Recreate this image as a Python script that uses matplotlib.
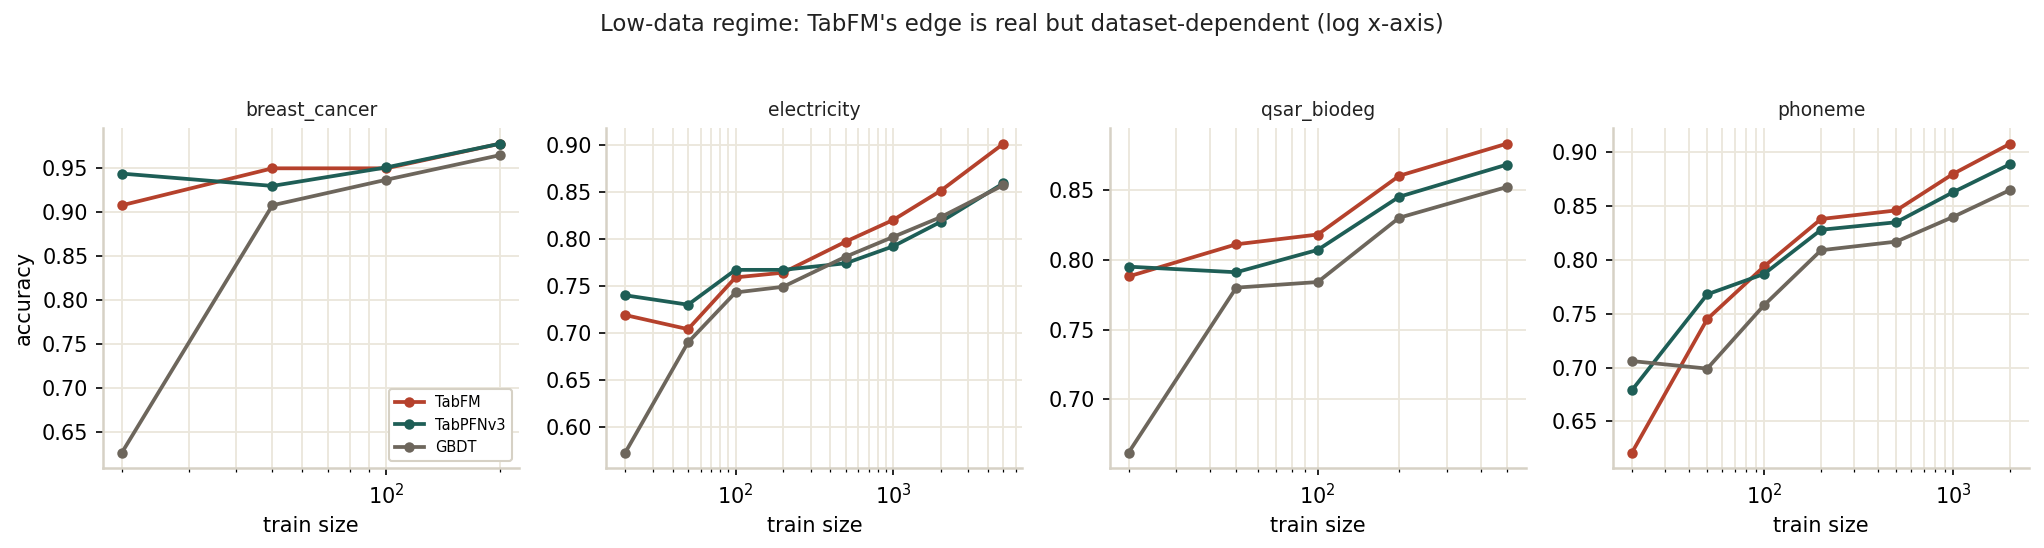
import numpy as np
import matplotlib
matplotlib.use("Agg")
import matplotlib.pyplot as plt

# data
datasets = ["breast_cancer", "electricity", "qsar_biodeg", "phoneme"]
models = ["TabFM", "TabPFNv3", "GBDT"]

sizes = {
    "breast_cancer": [20, 50, 100, 200],
    "electricity": [20, 50, 100, 200, 500, 1000, 2000, 5000],
    "qsar_biodeg": [20, 50, 100, 200, 500],
    "phoneme": [20, 50, 100, 200, 500, 1000, 2000],
}

tabfm = {
    "breast_cancer": [0.908, 0.950, 0.950, 0.978],
    "electricity": [0.719, 0.704, 0.759, 0.764, 0.797, 0.820, 0.851, 0.901],
    "qsar_biodeg": [0.788, 0.811, 0.818, 0.860, 0.883],
    "phoneme": [0.621, 0.745, 0.794, 0.838, 0.846, 0.880, 0.908],
}
tabpfn = {
    "breast_cancer": [0.944, 0.930, 0.951, 0.978],
    "electricity": [0.740, 0.730, 0.767, 0.767, 0.774, 0.792, 0.818, 0.859],
    "qsar_biodeg": [0.795, 0.791, 0.807, 0.845, 0.868],
    "phoneme": [0.679, 0.768, 0.787, 0.828, 0.835, 0.863, 0.889],
}
gbdt = {
    "breast_cancer": [0.627, 0.908, 0.937, 0.965],
    "electricity": [0.573, 0.690, 0.743, 0.749, 0.781, 0.802, 0.823, 0.857],
    "qsar_biodeg": [0.662, 0.780, 0.784, 0.830, 0.852],
    "phoneme": [0.706, 0.699, 0.758, 0.809, 0.817, 0.840, 0.865],
}

colors = {"TabFM": "#b5412c", "TabPFNv3": "#1e5e56", "GBDT": "#6d665c"}
series = {"TabFM": tabfm, "TabPFNv3": tabpfn, "GBDT": gbdt}

grid_c = "#ebe7dc"
spine_c = "#d6d1c5"

fig, axes = plt.subplots(1, 4, figsize=(2044 / 150, 548 / 150), dpi=150)
fig.subplots_adjust(left=0.0504, right=0.9927, top=0.766, bottom=0.146, wspace=0.21)

for ax, name in zip(axes, datasets):
    for m in models:
        ax.plot(sizes[name], series[m][name], marker="o", ms=4, lw=1.8,
                color=colors[m], label=m)
    ax.set_xscale("log")
    ax.set_title(name, fontsize=9, color="#222222")
    ax.set_xlabel("train size", fontsize=10)
    ax.grid(True, which="both", axis="x", color=grid_c, lw=0.9)
    ax.grid(True, which="major", axis="y", color=grid_c, lw=0.9)
    ax.set_axisbelow(True)
    for s in ["top", "right"]:
        ax.spines[s].set_visible(False)
    for s in ["left", "bottom"]:
        ax.spines[s].set_color(spine_c)
        ax.spines[s].set_linewidth(1.2)
    ax.tick_params(labelsize=10)

axes[0].set_ylabel("accuracy", fontsize=10)
leg = axes[0].legend(loc="lower right", fontsize=7, framealpha=1, edgecolor=spine_c)

fig.suptitle("Low-data regime: TabFM's edge is real but dataset-dependent (log x-axis)",
             fontsize=11, y=0.977, color="#222222")

fig.savefig("out.png", dpi=150)
